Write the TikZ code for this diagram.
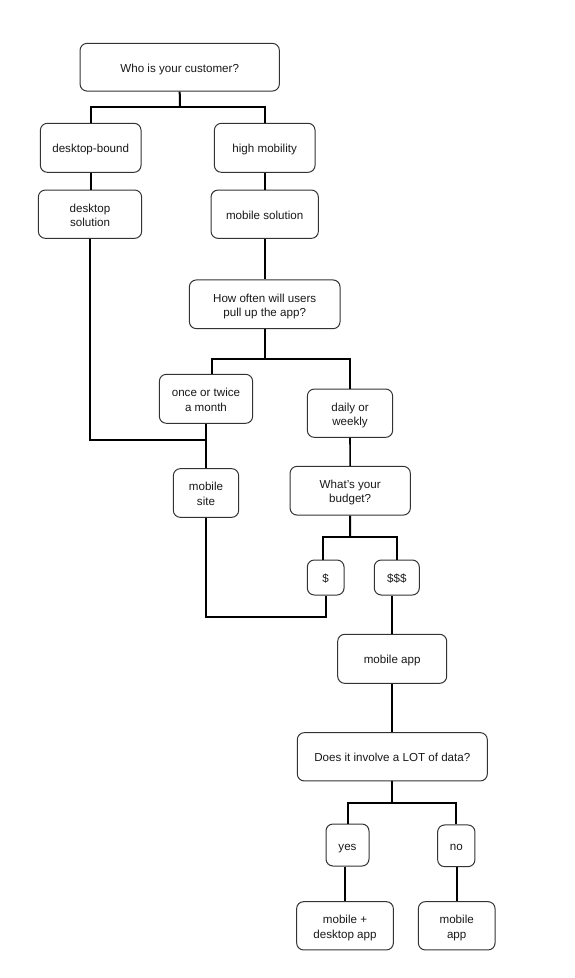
\documentclass[tikz,border=0pt]{standalone}
\usepackage{fontspec}
\setmainfont{Liberation Sans}
\begin{document}
\begin{tikzpicture}[x=1pt,y=-1pt,
  box/.style={draw=black!80,line width=1pt,rounded corners=7pt,align=center,inner sep=0pt,
    text height=10pt,text depth=0pt,
    font=\fontsize{11.6}{14.4}\selectfont,text=black!90},
  box2/.style={box,text height=24.4pt},
  conn/.style={draw=black,line width=1.6pt},
  split/.style={draw=black,line width=2pt}]
\useasboundingbox[fill=white] (0,0) rectangle (574,978);
\node[box,minimum width=199.3pt,minimum height=47.7pt] (who) at (179.7,67.2) {Who is your customer?};
\node[box,minimum width=100.7pt,minimum height=49pt] (db) at (90.7,147.8) {desktop-bound};
\node[box,minimum width=100.7pt,minimum height=49pt] (hm) at (264.7,147.8) {high mobility};
\node[box2,minimum width=103.3pt,minimum height=48.3pt] (ds) at (90,214.2) {desktop\\solution};
\node[box,minimum width=107.3pt,minimum height=48.3pt] (msol) at (264.7,214.2) {mobile solution};
\node[box2,minimum width=150.7pt,minimum height=48.7pt] (how) at (264.7,304.3) {How often will users\\pull up the app?};
\node[box2,minimum width=93.3pt,minimum height=49pt] (ot) at (206,398.8) {once or twice\\a month};
\node[box2,minimum width=85.3pt,minimum height=48.3pt] (dw) at (350,413.2) {daily or\\weekly};
\node[box2,minimum width=65.3pt,minimum height=48.7pt] (msite) at (206,493) {mobile\\site};
\node[box2,minimum width=120.3pt,minimum height=48.7pt] (bud) at (350.2,490.7) {What's your\\budget?};
\node[box,minimum width=36.7pt,minimum height=35pt] (d1) at (325.7,577.5) {\$};
\node[box,minimum width=45pt,minimum height=35pt] (d3) at (396.8,577.5) {\$\$\$};
\node[box,minimum width=109pt,minimum height=49pt] (mapp) at (392.2,658.8) {mobile app};
\node[box,minimum width=190pt,minimum height=48.3pt] (lot) at (392.3,756.8) {Does it involve a LOT of data?};
\node[box,minimum width=43pt,minimum height=42pt] (yes) at (347.5,845) {yes};
\node[box,minimum width=37.3pt,minimum height=41.7pt] (no) at (456.3,845.8) {no};
\node[box2,minimum width=96.7pt,minimum height=48.3pt] (mdapp) at (345,925.8) {mobile +\\desktop app};
\node[box2,minimum width=76.7pt,minimum height=48.3pt] (mapp2) at (456.7,925.8) {mobile\\app};
\coordinate (s1) at (180,106.7);
\coordinate (s2) at (264.7,359);
\coordinate (s3) at (350,536.7);
\coordinate (s4) at (392.3,802.7);
\coordinate (j1) at (206,440);
\coordinate (j2) at (206,616.7);
% splits
\draw[split] (who.south) -- (s1);
\draw[split] (db.north) |- (s1) -| (hm.north);
\draw[split] (how.south) -- (s2);
\draw[split] ([xshift=6.3pt]ot.north) |- (s2) -| (dw.north);
\draw[split] (bud.south) -- (s3);
\draw[split] ([xshift=-2.4pt]d1.north) |- (s3) -| (d3.north);
\draw[split] (lot.south) -- (s4);
\draw[split] (yes.north) |- (s4) -| (no.north);
% single lines
\draw[conn] (db.south) -- (db.south |- ds.north);
\draw[conn] (hm.south) -- (msol.north);
\draw[conn] (msol.south) -- (how.north);
\draw[conn] (ds.south) |- (j1);
\draw[conn] (ot.south) -- (msite.north);
\draw[conn] (dw.south) -- (bud.north);
\draw[conn] (msite.south) -- (j2) -| (d1.south);
\draw[conn] (d3.south -| mapp.north) -- (mapp.north);
\draw[conn] (mapp.south) -- (mapp.south |- lot.north);
\draw[conn] (mdapp.north |- yes.south) -- (mdapp.north);
\draw[conn] (no.south -| mapp2.north) -- (mapp2.north);
\end{tikzpicture}
\end{document}
